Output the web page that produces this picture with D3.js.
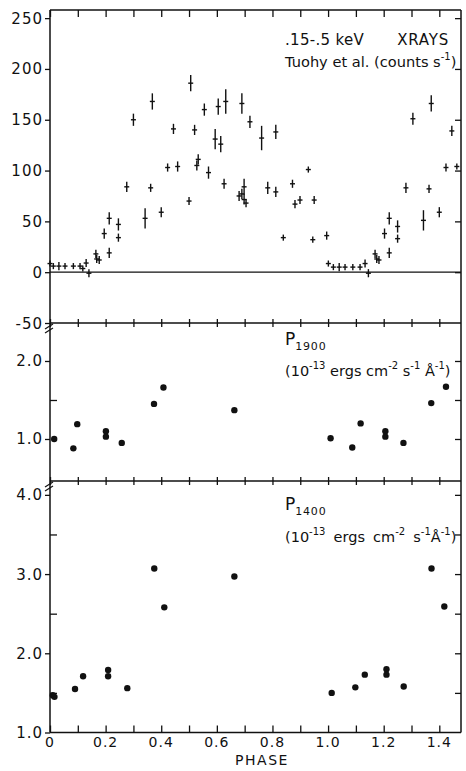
<!DOCTYPE html>
<html><head><meta charset="utf-8">
<script src="https://cdn.jsdelivr.net/npm/d3@7/dist/d3.min.js"></script>
<style>
html,body{margin:0;padding:0;background:#fff;}
svg text{font-family:"DejaVu Sans",sans-serif;fill:#111;}
</style></head>
<body>
<svg id="c" width="466" height="771"></svg>
<script>
// ---- data ----
const xrayPhase = [0.000,0.012,0.032,0.054,0.084,0.108,0.118,0.130,0.140,0.165,0.168,0.177,0.195,0.213,0.213,0.246,0.246,0.276,0.300,0.342,0.362,0.368,0.400,0.423,0.444,0.459,0.500,0.506,0.520,0.528,0.533,0.555,0.570,0.594,0.605,0.614,0.626,0.632,0.680,0.690,0.690,0.698,0.698,0.705,0.719,0.761,0.783,0.812,0.812,0.839,0.872,0.881,0.899,0.929,0.945,0.950,0.995,1.001,1.019,1.040,1.061,1.089,1.115,1.133,1.145,1.169,1.175,1.183,1.203,1.220,1.220,1.250,1.250,1.280,1.305,1.343,1.363,1.371,1.400,1.424,1.445,1.463];
const xrayCounts = [8.5,6,6,6,6,6,3.6,9,-1,18,13,12,38,53,19,47,34,84,150,53,83,168,59,103,141,104,70,186,140,105,111,160,98,131,163,126,87,168,75,166,77,84,71.5,68,148,132,83,138,79,34,87,67,71,101,32,71,36,8.5,5,5,5,5,5,8.5,-1,18,13,12,38,53,19,45,33,83,151,51,82,166,59,103,139,104];
const xrayErr = [3,3,4,3,3,3,3,4,4,4,4,4,5,6,5,6,4,5,6,10,4,8,5,4,5,5,4,8,5,5,5,6,6,10,8,8,5,12,5,10,5,8,5,4,6,12,6,7,5,3,4,4,4,3,3,4,4,3,3,4,3,3,3,4,4,4,4,4,5,6,5,6,4,5,6,10,4,8,5,4,5,3];

const p1900Phase = [0.015,0.084,0.098,0.201,0.201,0.258,0.374,0.408,0.663,1.009,1.087,1.117,1.206,1.206,1.271,1.371,1.424];
const p1900Flux  = [1.00,0.88,1.19,1.10,1.03,0.95,1.45,1.66,1.37,1.01,0.89,1.20,1.10,1.03,0.95,1.46,1.67];

const p1400Phase = [0.010,0.016,0.090,0.119,0.209,0.209,0.278,0.375,0.411,0.663,1.013,1.098,1.132,1.210,1.210,1.272,1.372,1.418];
const p1400Flux  = [1.47,1.45,1.55,1.71,1.79,1.71,1.56,3.07,2.58,2.97,1.50,1.57,1.73,1.80,1.73,1.58,3.07,2.59];

const phaseTicks = [0,0.1,0.2,0.3,0.4,0.5,0.6,0.7,0.8,0.9,1.0,1.1,1.2,1.3,1.4];
const phaseLabels = ["0","0.2","0.4","0.6","0.8","1.0","1.2","1.4"];
const y1Ticks = [250,200,150,100,50,0,-50];
const y2Major = [2.0,1.0], y2Minor=[1.5], y2All=[2.0,1.5,1.0];
const y3Major = [4.0,3.0,2.0,1.0], y3Minor=[3.5,2.5,1.5], y3All=[4.0,3.5,3.0,2.5,2.0,1.5];

// ---- layout ----
const svg = d3.select("#c");
const X0=50, X1=461;
const x = d3.scaleLinear().domain([0,1.478]).range([X0,X1]);
const y1 = d3.scaleLinear().domain([-50,258]).range([323,10]);
const y2 = d3.scaleLinear().domain([0.4615,2.487]).range([481,323]);
const y3 = d3.scaleLinear().domain([1.0,4.175]).range([732.5,481]);
const ink="#111";

function styleAxis(g){g.select(".domain").remove();g.selectAll("line").attr("stroke",ink).attr("stroke-width",1.3);g.selectAll("text").remove();}

// frame lines
const frame = svg.append("g").attr("stroke",ink).attr("stroke-width",1.5).attr("fill","none");
frame.append("line").attr("x1",X0).attr("x2",X1).attr("y1",10).attr("y2",10);
frame.append("line").attr("x1",X0).attr("x2",X1).attr("y1",323).attr("y2",323);
frame.append("line").attr("x1",X0).attr("x2",X1).attr("y1",481).attr("y2",481);
frame.append("line").attr("x1",X0).attr("x2",X1).attr("y1",732.5).attr("y2",732.5);
frame.append("line").attr("x1",X0).attr("x2",X0).attr("y1",10).attr("y2",732.5);
frame.append("line").attr("x1",X1).attr("x2",X1).attr("y1",10).attr("y2",732.5);
// zero line
svg.append("line").attr("x1",X0).attr("x2",X1).attr("y1",y1(0)).attr("y2",y1(0)).attr("stroke",ink).attr("stroke-width",1.2);

// x ticks
svg.append("g").attr("transform","translate(0,10)").call(d3.axisBottom(x).tickValues(phaseTicks).tickSize(7)).call(styleAxis);
[323,481].forEach(yy=>{
  svg.append("g").attr("transform",`translate(0,${yy})`).call(d3.axisBottom(x).tickValues(phaseTicks).tickSize(4)).call(styleAxis);
  svg.append("g").attr("transform",`translate(0,${yy})`).call(d3.axisTop(x).tickValues(phaseTicks).tickSize(4)).call(styleAxis);
});
svg.append("g").attr("transform","translate(0,732.5)").call(d3.axisTop(x).tickValues(phaseTicks).tickSize(7)).call(styleAxis);
// x labels
svg.append("g").selectAll("text").data(phaseLabels).join("text")
  .attr("x",d=>x(+d)).attr("y",747).attr("text-anchor","middle")
  .attr("font-size",14).attr("letter-spacing",1).text(d=>d);
svg.append("text").attr("x",262).attr("y",765).attr("text-anchor","middle").attr("font-size",14).attr("letter-spacing",1.5).text("PHASE");

// y axes
function yAxes(scale, major, minor, all, fmt){
  svg.append("g").attr("transform",`translate(${X0},0)`).call(d3.axisLeft(scale).tickValues(major).tickSize(5)).call(styleAxis);
  if(minor.length) svg.append("g").attr("transform",`translate(${X0},0)`).call(d3.axisRight(scale).tickValues(minor).tickSize(7)).call(styleAxis);
  svg.append("g").attr("transform",`translate(${X1},0)`).call(d3.axisLeft(scale).tickValues(all).tickSize(6)).call(styleAxis);
  svg.append("g").selectAll("text").data(major).join("text")
    .attr("x",43).attr("y",d=>scale(d)+5.5).attr("text-anchor","end")
    .attr("font-size",15).attr("letter-spacing",1).text(fmt);
}
yAxes(y1, y1Ticks, [], y1Ticks.filter(d=>d>-50), d=>String(d));
yAxes(y2, y2Major, y2Minor, y2All, d=>d.toFixed(1));
yAxes(y3, y3Major, y3Minor, y3All, d=>d.toFixed(1));

// axis break marks
[327,485].forEach(yy=>{
  svg.append("line").attr("x1",X0-5).attr("x2",X0+3).attr("y1",yy+2).attr("y2",yy-3).attr("stroke",ink).attr("stroke-width",1.2);
  svg.append("line").attr("x1",X0-5).attr("x2",X0+3).attr("y1",yy+6).attr("y2",yy+1).attr("stroke",ink).attr("stroke-width",1.2);
});

// x-ray crosses
const xr = xrayPhase.map((p,i)=>({p, v:xrayCounts[i], e:xrayErr[i]}));
const gx = svg.append("g").attr("stroke",ink).attr("stroke-width",1.4);
gx.selectAll("line.v").data(xr).join("line").attr("class","v")
  .attr("x1",d=>x(d.p)).attr("x2",d=>x(d.p)).attr("y1",d=>y1(d.v+d.e)).attr("y2",d=>y1(d.v-d.e));
gx.selectAll("line.h").data(xr).join("line").attr("class","h")
  .attr("x1",d=>x(d.p)-2.5).attr("x2",d=>x(d.p)+2.5).attr("y1",d=>y1(d.v)).attr("y2",d=>y1(d.v));

// dots
svg.append("g").selectAll("circle").data(p1900Phase.map((p,i)=>[p,p1900Flux[i]])).join("circle")
  .attr("cx",d=>x(d[0])).attr("cy",d=>y2(d[1])).attr("r",3.2).attr("fill",ink);
svg.append("g").selectAll("circle").data(p1400Phase.map((p,i)=>[p,p1400Flux[i]])).join("circle")
  .attr("cx",d=>x(d[0])).attr("cy",d=>y3(d[1])).attr("r",3.2).attr("fill",ink);

// annotations
svg.append("text").attr("x",285).attr("y",45).attr("font-size",15).attr("letter-spacing",0.3).text(".15-.5 keV");
svg.append("text").attr("x",449).attr("y",45).attr("font-size",15).attr("letter-spacing",0.8).attr("text-anchor","end").text("XRAYS");
const t2 = svg.append("text").attr("x",285).attr("y",67).attr("font-size",14.6);
t2.append("tspan").text("Tuohy et al. (counts s");
t2.append("tspan").attr("font-size",10).attr("dy",-7).text("-1");
t2.append("tspan").attr("dy",7).text(")");

function pLabel(yP, sub, yU, fs, ws, tight){
  const t = svg.append("text").attr("x",285).attr("y",yP).attr("font-size",17);
  t.append("tspan").text("P");
  t.append("tspan").attr("font-size",11).attr("letter-spacing",0.8).attr("dy",5).text(sub);
  const u = svg.append("text").attr("x",285).attr("y",yU).attr("font-size",fs).attr("word-spacing",ws).attr("xml:space","preserve");
  u.append("tspan").text("(10");
  u.append("tspan").attr("font-size",10).attr("dy",-7).text("-13");
  u.append("tspan").attr("dy",7).text(" ergs cm");
  u.append("tspan").attr("font-size",10).attr("dy",-7).text("-2");
  u.append("tspan").attr("dy",7).text(" s");
  u.append("tspan").attr("font-size",10).attr("dy",-7).text("-1");
  u.append("tspan").attr("dy",7).text(tight?"Å":" Å");
  u.append("tspan").attr("font-size",10).attr("dy",-7).text("-1");
  u.append("tspan").attr("dy",7).text(")");
}
pLabel(345, "1900", 376, 14.5, 0, false);
pLabel(510, "1400", 542, 14.5, 3.5, true);
</script>
</body></html>
